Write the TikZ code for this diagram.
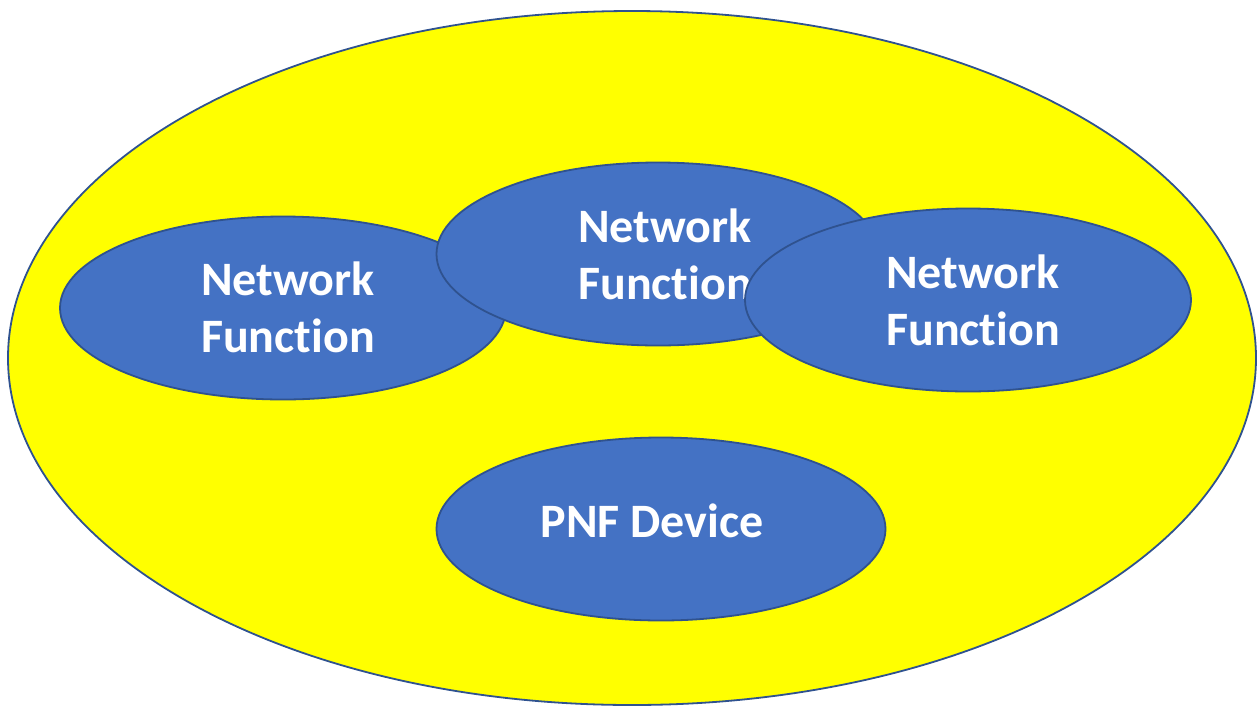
\documentclass[tikz,border=0pt]{standalone}
\usepackage{fontspec}
\setmainfont{Carlito}[Ligatures={NoCommon,NoRare,NoContextual}]
\usetikzlibrary{shapes.geometric}
\definecolor{bigyellow}{HTML}{FFFF00}
\definecolor{nfblue}{HTML}{4472C4}
\definecolor{nfedge}{HTML}{2F528F}
\tikzset{
  outer/.style={ellipse, draw=nfedge, fill=bigyellow, line width=1.8pt, inner sep=0pt},
  nf/.style={ellipse, draw=nfedge, fill=nfblue, line width=1.8pt, inner sep=0pt,
    minimum width=446pt, minimum height=183pt},
  nftext/.style={text=white, align=center, inner sep=0pt,
    font=\fontsize{48}{57}\selectfont\bfseries}
}
\begin{document}
\begin{tikzpicture}[x=1pt,y=-1pt]
\useasboundingbox (0,0) rectangle (1259,705);
\node[outer, minimum width=1248pt, minimum height=694pt] (world) at (632,358) {};
\node[nf] (nfleft) at (283,308) {};
\node[nftext] (tleft) at ([xshift=5pt,yshift=1pt]nfleft.center) {Network\\Function};
\node[nf, minimum width=443pt] (nfmid) at (658,254) {};
\node[nftext] (tmid) at ([xshift=7pt,yshift=0pt]nfmid.center) {Network\\Function};
\node[nf] (nfright) at (968,300) {};
\node[nftext] (tright) at ([xshift=5pt,yshift=0pt]nfright.center) {Network\\Function};
\node[nf, minimum width=449pt] (pnf) at (661,529) {};
\node[nftext] (tpnf) at ([xshift=-9pt,yshift=8pt]pnf.center) {PNF Device};
\end{tikzpicture}
\end{document}
